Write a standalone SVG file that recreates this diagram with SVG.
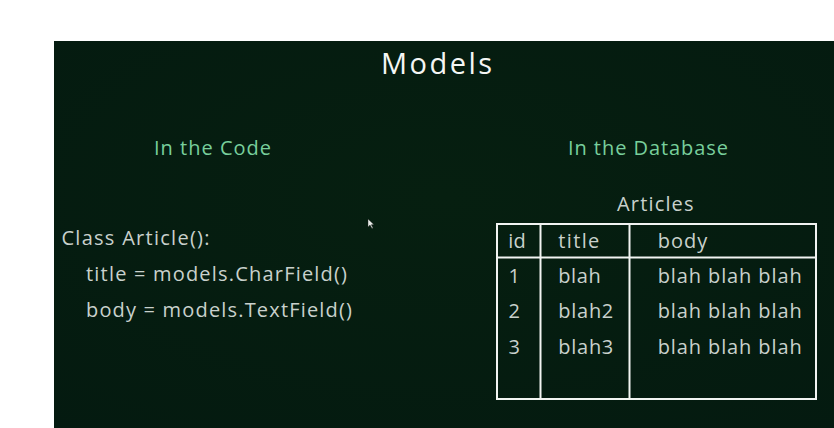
<svg xmlns="http://www.w3.org/2000/svg" width="834" height="428" viewBox="0 0 834 428">
  <style>
    .t { font-family: "Open Sans", "Liberation Sans", sans-serif; fill: #c9d1cc; font-size: 20px; }
    .h { font-family: "Open Sans", "Liberation Sans", sans-serif; fill: #78cf9c; font-size: 20px; }
    .title { font-family: "Open Sans", "Liberation Sans", sans-serif; fill: #f4f6f4; font-size: 29px; }
    .ln { stroke: #f2f4f2; stroke-width: 2; fill: none; }
  </style>
  <defs>
    <radialGradient id="bg" cx="0.5" cy="0.4" r="0.8">
      <stop offset="0" stop-color="#061f10"/>
      <stop offset="1" stop-color="#041a10"/>
    </radialGradient>
  </defs>
  <rect x="0" y="0" width="834" height="428" fill="#ffffff"/>
  <rect id="panel" x="54" y="41" width="780" height="387" fill="url(#bg)"/>

  <g id="heading">
    <text class="title" x="381" y="74" textLength="111" lengthAdjust="spacing">Models</text>
  </g>

  <g id="code">
    <text class="h" x="154" y="155" textLength="117" lengthAdjust="spacing">In the Code</text>
    <text class="t" x="61.5" y="245" textLength="148" lengthAdjust="spacing">Class Article():</text>
    <text class="t" x="86" y="281" textLength="261" lengthAdjust="spacing">title = models.CharField()</text>
    <text class="t" x="86" y="316.5" textLength="266" lengthAdjust="spacing">body = models.TextField()</text>
  </g>

  <g id="database">
    <text class="h" x="568" y="155" textLength="160" lengthAdjust="spacing">In the Database</text>
    <text class="t" x="617" y="211" textLength="76.5" lengthAdjust="spacing">Articles</text>
  </g>

  <g id="table">
    <rect class="ln" x="497" y="224" width="319" height="175"/>
    <line class="ln" x1="497" y1="257.5" x2="816" y2="257.5"/>
    <line class="ln" x1="540.5" y1="224" x2="540.5" y2="399"/>
    <line class="ln" x1="629.5" y1="224" x2="629.5" y2="399"/>
    <text class="t" x="508.3" y="247.7" textLength="17.4" lengthAdjust="spacing">id</text>
    <text class="t" x="558.3" y="247.7" textLength="41" lengthAdjust="spacing">title</text>
    <text class="t" x="657.7" y="247.7" textLength="49.6" lengthAdjust="spacing">body</text>
    <text class="t" x="508.5" y="282.7">1</text>
    <text class="t" x="558.3" y="282.7" textLength="42.4" lengthAdjust="spacing">blah</text>
    <text class="t" x="657.7" y="282.7" textLength="144" lengthAdjust="spacing">blah blah blah</text>
    <text class="t" x="508.5" y="318.3">2</text>
    <text class="t" x="558.3" y="318.3" textLength="55" lengthAdjust="spacing">blah2</text>
    <text class="t" x="657.7" y="318.3" textLength="144" lengthAdjust="spacing">blah blah blah</text>
    <text class="t" x="508.5" y="353.5">3</text>
    <text class="t" x="558.3" y="353.5" textLength="55" lengthAdjust="spacing">blah3</text>
    <text class="t" x="657.7" y="353.5" textLength="144" lengthAdjust="spacing">blah blah blah</text>
  </g>

  <g id="cursor">
    <path d="M368 219 L368 227 L370 225 L372 228.5 L373 228 L371.3 224.7 L373.8 224.5 Z" fill="#e8ece8" stroke="#222" stroke-width="0.4"/>
  </g>
</svg>
